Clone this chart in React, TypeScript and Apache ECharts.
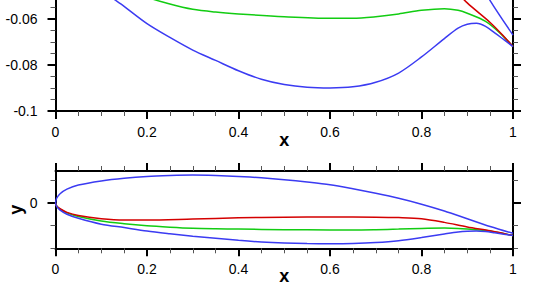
import React, { useEffect, useRef } from "react";
import * as echarts from "echarts";

// ---- data ----
const blueUpperX = [0, 0.0025, 0.01, 0.025, 0.05, 0.1, 0.15, 0.2, 0.25, 0.3, 0.35, 0.4, 0.45, 0.5, 0.55, 0.6, 0.65, 0.7, 0.75, 0.8, 0.85, 0.9, 0.95, 1.0];
const blueUpperY = [0, 0.01, 0.02, 0.03, 0.039, 0.048, 0.054, 0.058, 0.06, 0.061, 0.06, 0.058, 0.055, 0.051, 0.046, 0.04, 0.031, 0.021, 0.01, -0.003, -0.018, -0.035, -0.052, -0.067];

const blueLowerX = [0, 0.0025, 0.01, 0.025, 0.05, 0.1, 0.15, 0.2, 0.25, 0.3, 0.35, 0.4, 0.45, 0.5, 0.55, 0.6, 0.65, 0.7, 0.75, 0.8, 0.85, 0.88, 0.9, 0.92, 0.94, 0.96, 0.98, 1.0];
const blueLowerY = [0, -0.008, -0.016, -0.025, -0.034, -0.047, -0.0545, -0.062, -0.068, -0.0735, -0.078, -0.0825, -0.0862, -0.0885, -0.0897, -0.09, -0.0895, -0.0875, -0.0835, -0.0765, -0.0685, -0.064, -0.0623, -0.0619, -0.0632, -0.066, -0.069, -0.072];

const greenLowerX = [0, 0.0025, 0.01, 0.025, 0.05, 0.1, 0.15, 0.2, 0.25, 0.3, 0.35, 0.4, 0.5, 0.6, 0.65, 0.7, 0.75, 0.8, 0.85, 0.88, 0.9, 0.94, 0.97, 1.0];
const greenLowerY = [0, -0.007, -0.014, -0.022, -0.03, -0.04, -0.046, -0.0505, -0.0535, -0.0558, -0.057, -0.0578, -0.059, -0.0597, -0.0597, -0.059, -0.0578, -0.0562, -0.0555, -0.0562, -0.0575, -0.061, -0.0658, -0.072];

const redLowerX = [0, 0.0025, 0.01, 0.025, 0.05, 0.1, 0.15, 0.2, 0.3, 0.4, 0.5, 0.6, 0.7, 0.75, 0.8, 0.85, 0.9, 0.95, 0.975, 1.0];
const redLowerY = [0, -0.007, -0.013, -0.021, -0.028, -0.035, -0.038, -0.038, -0.0355, -0.033, -0.0315, -0.031, -0.0315, -0.0325, -0.035, -0.043, -0.053, -0.0615, -0.0665, -0.072];

const xMin = 0;
const xMax = 1;
const xInterval = 0.2;
const topYMin = -0.1;
const topYMax = -0.04;
const topYInterval = 0.02;
const topYLabels = [-0.1, -0.08, -0.06];
const botYMin = -0.1;
const botYMax = 0.07;
const botMinorTicks = [-0.1, -0.05, 0.05];
const botMajorTicks = [0];

const BLUE = "#3b3bf2";
const RED = "#d40000";
const GREEN = "#12cc12";
const FONT = "Liberation Sans, Arial, Helvetica, sans-serif";

const zip = (xs: number[], ys: number[]) => xs.map((x, i) => [x, ys[i]]);

export default function App() {
  const ref = useRef<HTMLDivElement>(null);
  useEffect(() => {
    if (!ref.current) return;
    const chart = echarts.init(ref.current, null, { renderer: "svg" });

    const axisLine = { show: true, onZero: false, lineStyle: { color: "#000", width: 2 } };
    const majorTick = { show: true, inside: false, length: 8, lineStyle: { color: "#000", width: 2 } };
    const minorTick = { show: true, splitNumber: 4, length: 5, lineStyle: { color: "#555", width: 1 } };
    const label = { show: true, color: "#000", fontSize: 14, fontFamily: FONT };
    const nameStyle = { color: "#000", fontSize: 18, lineHeight: 13, fontWeight: "bold", fontFamily: FONT };

    const xCommon = {
      type: "value",
      min: xMin,
      max: xMax,
      interval: xInterval,
      axisLine,
      axisTick: majorTick,
      minorTick,
      splitLine: { show: false },
      minorSplitLine: { show: false },
    };

    const line = (xs: number[], ys: number[], color: string, grid: number) => ({
      type: "line",
      xAxisIndex: grid === 0 ? 0 : 1,
      yAxisIndex: grid === 0 ? 0 : 2,
      data: zip(xs, ys),
      showSymbol: false,
      symbol: "none",
      smooth: 0.3,
      clip: true,
      lineStyle: { color, width: 1.5 },
      silent: true,
    });

    const series: any[] = [];
    [0, 1].forEach((g) => {
      series.push(line(greenLowerX, greenLowerY, GREEN, g));
      series.push(line(redLowerX, redLowerY, RED, g));
      series.push(line(blueLowerX, blueLowerY, BLUE, g));
      series.push(line(blueUpperX, blueUpperY, BLUE, g));
    });

    chart.setOption({
      animation: false,
      grid: [
        { left: 55.5, right: 25, top: -27, height: 138, containLabel: false, outerBoundsMode: "none" },
        { left: 55.5, right: 25, top: 171, height: 77.3, containLabel: false, outerBoundsMode: "none" },
      ],
      xAxis: [
        {
          ...xCommon,
          gridIndex: 0,
          position: "bottom",
          axisLabel: { ...label, margin: 14 },
          name: "x",
          nameLocation: "middle",
          nameGap: 22,
          nameMoveOverlap: false,
          nameTextStyle: nameStyle,
        },
        {
          ...xCommon,
          gridIndex: 1,
          position: "bottom",
          axisLabel: { ...label, margin: 14 },
          name: "x",
          nameLocation: "middle",
          nameGap: 21,
          nameMoveOverlap: false,
          nameTextStyle: nameStyle,
        },
        {
          ...xCommon,
          gridIndex: 1,
          position: "top",
          axisLabel: { show: false },
        },
      ],
      yAxis: [
        {
          type: "value",
          gridIndex: 0,
          position: "left",
          min: topYMin,
          max: topYMax,
          interval: topYInterval,
          axisLine,
          axisTick: majorTick,
          minorTick,
          axisLabel: { ...label, margin: 18, customValues: topYLabels },
          splitLine: { show: false },
        },
        {
          type: "value",
          gridIndex: 0,
          position: "right",
          min: topYMin,
          max: topYMax,
          interval: topYInterval,
          axisLine,
          axisTick: majorTick,
          minorTick,
          axisLabel: { show: false },
          splitLine: { show: false },
        },
        {
          type: "value",
          gridIndex: 1,
          position: "left",
          min: botYMin,
          max: botYMax,
          axisLine,
          axisTick: { show: true, length: 5, customValues: botMinorTicks, lineStyle: { color: "#555", width: 1 } },
          axisLabel: { show: false },
          splitLine: { show: false },
          name: "y",
          nameLocation: "middle",
          nameRotate: 90,
          nameGap: 33,
          nameMoveOverlap: false,
          nameTextStyle: nameStyle,
        },
        {
          type: "value",
          gridIndex: 1,
          position: "left",
          min: botYMin,
          max: botYMax,
          axisLine,
          axisTick: { ...majorTick, customValues: botMajorTicks },
          axisLabel: { ...label, margin: 18, customValues: botMajorTicks },
          splitLine: { show: false },
        },
        {
          type: "value",
          gridIndex: 1,
          position: "right",
          min: botYMin,
          max: botYMax,
          axisLine,
          axisTick: { show: true, length: 5, customValues: botMinorTicks, lineStyle: { color: "#555", width: 1 } },
          axisLabel: { show: false },
          splitLine: { show: false },
        },
        {
          type: "value",
          gridIndex: 1,
          position: "right",
          min: botYMin,
          max: botYMax,
          axisLine,
          axisTick: { ...majorTick, customValues: botMajorTicks },
          axisLabel: { show: false },
          splitLine: { show: false },
        },
      ],
      series,
    });

    return () => chart.dispose();
  }, []);

  return (
    <div
      ref={ref}
      style={{ position: "fixed", left: 0, top: 0, width: 538, height: 285, background: "#fff" }}
    />
  );
}
